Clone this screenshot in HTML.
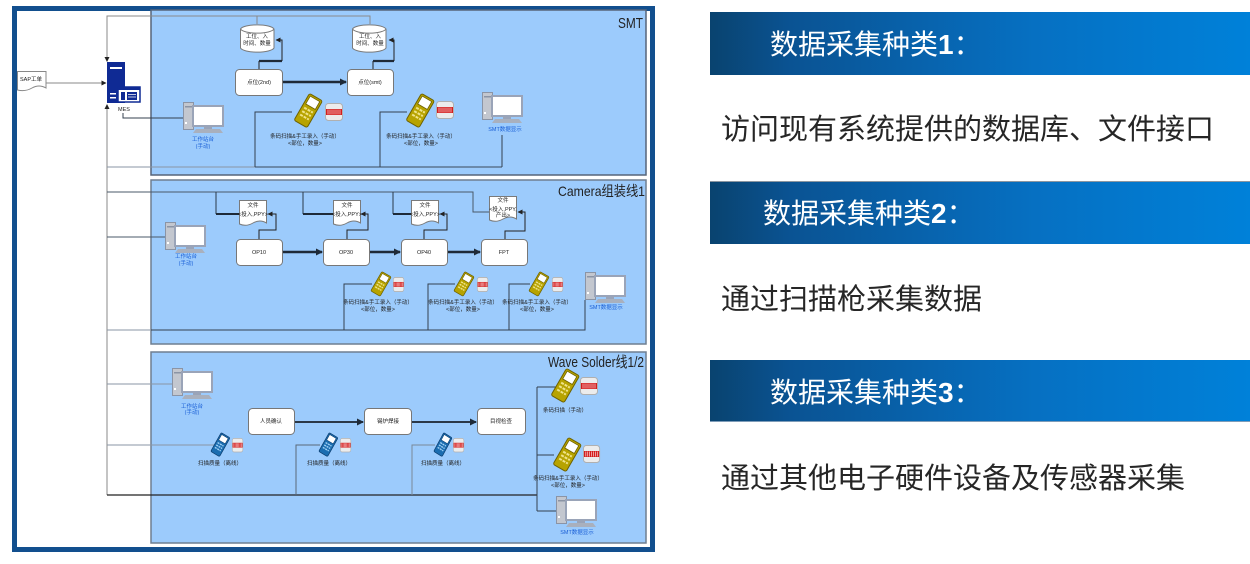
<!DOCTYPE html>
<html>
<head>
<meta charset="utf-8">
<style>
html,body{margin:0;padding:0;background:#fff;}
svg{display:block;}
.t{font-family:"Liberation Sans","Noto Sans CJK SC",sans-serif;}
.s{font-family:"Liberation Sans","Noto Sans CJK SC",sans-serif;font-size:5.5px;fill:#222;text-anchor:middle;}
.b{font-family:"Liberation Sans","Noto Sans CJK SC",sans-serif;font-size:5.5px;fill:#1a5fd6;text-anchor:middle;}
</style>
</head>
<body>
<svg width="1250" height="564" viewBox="0 0 1250 564" xmlns="http://www.w3.org/2000/svg">
<defs>
  <linearGradient id="hg" x1="0" x2="1" y1="0" y2="0">
    <stop offset="0" stop-color="#09436f"/>
    <stop offset="0.15" stop-color="#0a5393"/>
    <stop offset="0.6" stop-color="#0670c2"/>
    <stop offset="1" stop-color="#0081d9"/>
  </linearGradient>
  <marker id="ah" markerWidth="7" markerHeight="7" refX="6" refY="3.5" orient="auto" markerUnits="userSpaceOnUse">
    <path d="M0,0 L7,3.5 L0,7 Z" fill="#1e2a38"/>
  </marker>
  <marker id="as" markerWidth="5" markerHeight="5" refX="4.5" refY="2.5" orient="auto" markerUnits="userSpaceOnUse">
    <path d="M0,0 L5,2.5 L0,5 Z" fill="#222"/>
  </marker>
  <g id="ysc">
    <g transform="translate(15,17) rotate(30)">
      <rect x="-7.5" y="-16" width="15" height="31" rx="2" fill="#b7a300" stroke="#6d6100" stroke-width="1"/>
      <rect x="-5.5" y="-14" width="11" height="9" fill="#fff" stroke="#6d6100" stroke-width=".8"/>
      <g fill="#efe38a">
        <rect x="-5" y="-2" width="3" height="2"/><rect x="-1" y="-2" width="3" height="2"/><rect x="3" y="-2" width="2" height="2"/>
        <rect x="-5" y="2" width="3" height="2"/><rect x="-1" y="2" width="3" height="2"/><rect x="3" y="2" width="2" height="2"/>
        <rect x="-5" y="6" width="3" height="2"/><rect x="-1" y="6" width="3" height="2"/><rect x="3" y="6" width="2" height="2"/>
      </g>
    </g>
  </g>
  <g id="bsc">
    <g transform="translate(15,17) rotate(30)">
      <rect x="-7.5" y="-16" width="15" height="31" rx="2" fill="#1b6db0" stroke="#0b3d6e" stroke-width="1"/>
      <rect x="-5.5" y="-14" width="11" height="9" fill="#fff" stroke="#0b3d6e" stroke-width=".8"/>
      <g fill="#9fd0f5">
        <rect x="-5" y="-2" width="3" height="2"/><rect x="-1" y="-2" width="3" height="2"/><rect x="3" y="-2" width="2" height="2"/>
        <rect x="-5" y="2" width="3" height="2"/><rect x="-1" y="2" width="3" height="2"/><rect x="3" y="2" width="2" height="2"/>
        <rect x="-5" y="6" width="3" height="2"/><rect x="-1" y="6" width="3" height="2"/><rect x="3" y="6" width="2" height="2"/>
      </g>
    </g>
  </g>
  <g id="rl">
    <rect x=".5" y=".5" width="17" height="17" rx="3" fill="#ececec" stroke="#b0b0b0"/>
    <rect x="1" y="6" width="16" height="6" fill="#d41c1c"/>
    <path d="M3,6.5v5M5,6.5v5M7,6.5v5M9,6.5v5M11,6.5v5M13,6.5v5M15,6.5v5" stroke="#fff" stroke-width=".6"/>
  </g>
  <g id="pc">
    <rect x=".5" y=".5" width="10" height="27" fill="#c3c7cf" stroke="#8b94a5"/>
    <rect x="2" y="4" width="7" height="1.5" fill="#8b94a5"/>
    <rect x="2" y="20" width="2" height="2" fill="#fff"/>
    <rect x="10" y="4" width="30" height="20" fill="#fff" stroke="#9aa4b8" stroke-width="2"/>
    <rect x="21" y="24" width="8" height="3" fill="#9aa4b8"/>
    <path d="M13,27 H37 L40,31 H10 Z" fill="#a9b0bd"/>
  </g>
  <g id="db">
    <path d="M0.5,5 A17,5 0 0 1 34,5 V24 A17,5 0 0 1 0.5,24 Z" fill="#fff" stroke="#7a7a7a"/>
    <path d="M0.5,5 A17,5 0 0 0 34,5" fill="none" stroke="#7a7a7a"/>
  </g>
  <g id="doc">
    <path d="M0.5,0.5 H27.5 V23 Q21,19 14,23 T0.5,24 Z" fill="#fff" stroke="#7a7a7a"/>
  </g>
</defs>

<!-- ================= LEFT DIAGRAM ================= -->
<rect x="14.5" y="8.5" width="638" height="541" fill="#fff" stroke="#124f8e" stroke-width="5"/>

<!-- panels -->
<rect x="151" y="10" width="495" height="165" fill="#9ccbfc" stroke="#56657a" stroke-width="1.5"/>
<rect x="151" y="180" width="495" height="164" fill="#9ccbfc" stroke="#6f7e90" stroke-width="1.5"/>
<rect x="151" y="352" width="495" height="191" fill="#9ccbfc" stroke="#6f7e90" stroke-width="1.5"/>

<text class="t" x="643" y="28" font-size="15" fill="#222" text-anchor="end" textLength="25" lengthAdjust="spacingAndGlyphs">SMT</text>
<text class="t" x="645" y="196" font-size="14" fill="#222" text-anchor="end" textLength="87" lengthAdjust="spacingAndGlyphs">Camera组装线1</text>
<text class="t" x="644" y="367" font-size="15" fill="#222" text-anchor="end" textLength="96" lengthAdjust="spacingAndGlyphs">Wave Solder线1/2</text>

<!-- SAP document -->
<path d="M17.5,71.5 H46 V88 Q39,84 32,88 T17.5,90 Z" fill="#fff" stroke="#888"/>
<text class="s" x="31" y="81">SAP工单</text>
<line x1="46" y1="83" x2="106" y2="83" stroke="#8a8a8a" stroke-width="1" marker-end="url(#as)"/>

<!-- server / MES -->
<path d="M107,60 V16 H370 V24" fill="none" stroke="#8a8a8a" stroke-width="1"/>
<line x1="257" y1="16" x2="257" y2="24" stroke="#8a8a8a" stroke-width="1"/>
<path d="M104.5,57 L109.5,57 L107,62 Z" fill="#222"/>
<line x1="107" y1="106" x2="107" y2="495" stroke="#8a8a8a" stroke-width="1"/>
<path d="M104.5,109 L109.5,109 L107,104 Z" fill="#222"/>
<rect x="107" y="62" width="18" height="41" fill="#0f2a94"/>
<rect x="110" y="67" width="12" height="2" fill="#fff"/>
<rect x="110" y="93" width="6" height="1.5" fill="#fff"/>
<rect x="110" y="97" width="6" height="1.5" fill="#fff"/>
<rect x="118" y="87" width="22" height="15" fill="#fff" stroke="#0f2a94" stroke-width="1.5"/>
<rect x="118" y="87" width="22" height="3" fill="#0f2a94"/>
<rect x="121" y="92" width="4" height="8" fill="#0f2a94"/>
<rect x="127" y="92" width="10" height="8" fill="#0f2a94"/>
<path d="M128,94.5 H136 M128,97 H136" stroke="#fff" stroke-width=".7"/>
<text class="s" x="124" y="111">MES</text>
<path d="M123,113 V118 H183" fill="none" stroke="#34414f" stroke-width="1"/>

<!-- SMT db & stations -->
<use href="#db" x="240" y="24"/>
<text class="s" x="257" y="38">工位、入</text>
<text class="s" x="257" y="45">时间、数量</text>
<use href="#db" x="352" y="24"/>
<text class="s" x="370" y="38">工位、入</text>
<text class="s" x="370" y="45">时间、数量</text>

<path d="M259,69 V61" stroke="#222" stroke-width="1"/>
<path d="M259,61 H282" stroke="#1e2a38" stroke-width="2.2"/>
<path d="M282,61 V40 H276" fill="none" stroke="#222" stroke-width="1" marker-end="url(#as)"/>
<path d="M373,69 V61" stroke="#222" stroke-width="1"/>
<path d="M373,61 H394" stroke="#1e2a38" stroke-width="2.2"/>
<path d="M394,61 V40 H389" fill="none" stroke="#222" stroke-width="1" marker-end="url(#as)"/>

<rect x="235.5" y="69.5" width="47" height="26" rx="4" fill="#fff" stroke="#777"/>
<text class="s" x="259" y="84">点位(2nd)</text>
<rect x="347.5" y="69.5" width="46" height="26" rx="4" fill="#fff" stroke="#777"/>
<text class="s" x="370" y="84">点位(smt)</text>
<line x1="283" y1="82" x2="346" y2="82" stroke="#1e2a38" stroke-width="2.5" marker-end="url(#ah)"/>

<!-- SMT bus -->
<line x1="107" y1="167" x2="255" y2="167" stroke="#8a96a4" stroke-width="1"/>
<line x1="255" y1="167" x2="502" y2="167" stroke="#3a4a5a" stroke-width="1"/>
<path d="M255,167 V112 H292" fill="none" stroke="#34414f" stroke-width="1"/>
<path d="M380,167 V112 H407" fill="none" stroke="#34414f" stroke-width="1"/>
<line x1="502" y1="135" x2="502" y2="167" stroke="#34414f" stroke-width="1"/>

<use href="#pc" x="183" y="102"/>
<text class="b" x="203" y="141">工作站台</text>
<text class="b" x="203" y="148">(手动)</text>
<use href="#ysc" x="293" y="94"/>
<use href="#rl" x="325" y="103"/>
<text class="s" x="305" y="138">条码扫描&amp;手工录入（手动）</text>
<text class="s" x="305" y="145">&lt;部位，数量&gt;</text>
<use href="#ysc" x="405" y="94"/>
<use href="#rl" x="436" y="101"/>
<text class="s" x="421" y="138">条码扫描&amp;手工录入（手动）</text>
<text class="s" x="421" y="145">&lt;部位，数量&gt;</text>
<use href="#pc" x="482" y="92"/>
<text class="b" x="505" y="131">SMT数据显示</text>

<!-- ========== Camera ========== -->
<path d="M107,192 H473 V212 H489" fill="none" stroke="#4a5868" stroke-width="1"/>
<path d="M216,192 V214" stroke="#2a3848" stroke-width="1"/>
<path d="M216,214 H239" stroke="#1e2a38" stroke-width="2"/>
<path d="M303,192 V214" stroke="#2a3848" stroke-width="1"/>
<path d="M303,214 H333" stroke="#1e2a38" stroke-width="2"/>
<path d="M393,192 V214" stroke="#2a3848" stroke-width="1"/>
<path d="M393,214 H411" stroke="#1e2a38" stroke-width="2"/>

<use href="#doc" x="239" y="200"/>
<text class="s" x="253" y="207">文件</text>
<text class="s" x="253" y="216">&lt;投入,PPY&gt;</text>
<use href="#doc" x="333" y="200"/>
<text class="s" x="347" y="207">文件</text>
<text class="s" x="347" y="216">&lt;投入,PPY&gt;</text>
<use href="#doc" x="411" y="200"/>
<text class="s" x="425" y="207">文件</text>
<text class="s" x="425" y="216">&lt;投入,PPY&gt;</text>
<use href="#doc" x="489" y="196"/>
<text class="s" x="503" y="202">文件</text>
<text class="s" x="503" y="211">&lt;投入,PPY,</text>
<text class="s" x="503" y="217">产出&gt;</text>

<path d="M259,239 V230 H276 V214 H268" fill="none" stroke="#222" stroke-width="1" marker-end="url(#as)"/>
<path d="M347,239 V230 H368 V214 H361" fill="none" stroke="#222" stroke-width="1" marker-end="url(#as)"/>
<path d="M424,239 V230 H447 V214 H440" fill="none" stroke="#222" stroke-width="1" marker-end="url(#as)"/>
<path d="M505,239 V231 H525 V212 H518" fill="none" stroke="#222" stroke-width="1" marker-end="url(#as)"/>

<rect x="236.5" y="239.5" width="46" height="26" rx="4" fill="#fff" stroke="#777"/>
<text class="s" x="259" y="254">OP10</text>
<rect x="323.5" y="239.5" width="46" height="26" rx="4" fill="#fff" stroke="#777"/>
<text class="s" x="346" y="254">OP30</text>
<rect x="401.5" y="239.5" width="46" height="26" rx="4" fill="#fff" stroke="#777"/>
<text class="s" x="424" y="254">OP40</text>
<rect x="481.5" y="239.5" width="46" height="26" rx="4" fill="#fff" stroke="#777"/>
<text class="s" x="504" y="254">FPT</text>
<line x1="283" y1="252" x2="322" y2="252" stroke="#1e2a38" stroke-width="2.5" marker-end="url(#ah)"/>
<line x1="370" y1="252" x2="400" y2="252" stroke="#1e2a38" stroke-width="2.5" marker-end="url(#ah)"/>
<line x1="448" y1="252" x2="480" y2="252" stroke="#1e2a38" stroke-width="2.5" marker-end="url(#ah)"/>

<line x1="107" y1="237" x2="165" y2="237" stroke="#4a5868" stroke-width="1"/>
<use href="#pc" x="165" y="222"/>
<text class="b" x="186" y="258">工作站台</text>
<text class="b" x="186" y="265">(手动)</text>

<line x1="107" y1="330" x2="151" y2="330" stroke="#8a96a4" stroke-width="1"/>
<path d="M151,330 H585 V300" fill="none" stroke="#34414f" stroke-width="1"/>
<path d="M344,330 V284 H372" fill="none" stroke="#34414f" stroke-width="1"/>
<path d="M428,330 V284 H455" fill="none" stroke="#34414f" stroke-width="1"/>
<path d="M509,330 V284 H530" fill="none" stroke="#34414f" stroke-width="1"/>

<use href="#ysc" transform="translate(370,272) scale(0.72)"/>
<use href="#rl" transform="translate(393,277) scale(0.62,0.83)"/>
<text class="s" x="378" y="304">条码扫描&amp;手工录入（手动）</text>
<text class="s" x="378" y="311">&lt;部位，数量&gt;</text>
<use href="#ysc" transform="translate(453,272) scale(0.72)"/>
<use href="#rl" transform="translate(477,277) scale(0.62,0.83)"/>
<text class="s" x="463" y="304">条码扫描&amp;手工录入（手动）</text>
<text class="s" x="463" y="311">&lt;部位，数量&gt;</text>
<use href="#ysc" transform="translate(528,272) scale(0.72)"/>
<use href="#rl" transform="translate(552,277) scale(0.62,0.83)"/>
<text class="s" x="537" y="304">条码扫描&amp;手工录入（手动）</text>
<text class="s" x="537" y="311">&lt;部位，数量&gt;</text>
<use href="#pc" x="585" y="272"/>
<text class="b" x="606" y="309">SMT数据显示</text>

<!-- ========== Wave Solder ========== -->
<line x1="107" y1="384" x2="174" y2="384" stroke="#8a96a4" stroke-width="1"/>
<line x1="107" y1="445" x2="214" y2="445" stroke="#8a96a4" stroke-width="1"/>
<line x1="107" y1="495" x2="537" y2="495" stroke="#222" stroke-width="1.3"/>
<path d="M537,387 V511" stroke="#34414f" stroke-width="1"/>
<path d="M537,387 H556" stroke="#34414f" stroke-width="1"/>
<path d="M537,455 H554" stroke="#34414f" stroke-width="1"/>
<path d="M537,511 H558" stroke="#34414f" stroke-width="1"/>
<path d="M296,495 V445 H320" fill="none" stroke="#5a6878" stroke-width="1"/>
<path d="M412,495 V445 H435" fill="none" stroke="#7a8898" stroke-width="1"/>

<use href="#pc" x="172" y="368"/>
<text class="b" x="192" y="408">工作站台</text>
<text class="b" x="192" y="414">(手动)</text>

<rect x="248.5" y="408.5" width="46" height="26" rx="4" fill="#fff" stroke="#777"/>
<text class="s" x="271" y="423">人员确认</text>
<rect x="364.5" y="408.5" width="47" height="26" rx="4" fill="#fff" stroke="#777"/>
<text class="s" x="388" y="423">锡炉焊接</text>
<rect x="477.5" y="408.5" width="48" height="26" rx="4" fill="#fff" stroke="#777"/>
<text class="s" x="501" y="423">目视检查</text>
<line x1="295" y1="422" x2="363" y2="422" stroke="#2a3848" stroke-width="2" marker-end="url(#ah)"/>
<line x1="412" y1="422" x2="476" y2="422" stroke="#2a3848" stroke-width="2" marker-end="url(#ah)"/>

<use href="#bsc" transform="translate(210,433) scale(0.68,0.7)"/>
<use href="#rl" transform="translate(232,438) scale(0.62,0.8)"/>
<text class="s" x="220" y="465">扫描质量（离线）</text>
<use href="#bsc" transform="translate(318,433) scale(0.68,0.7)"/>
<use href="#rl" transform="translate(340,438) scale(0.62,0.8)"/>
<text class="s" x="329" y="465">扫描质量（离线）</text>
<use href="#bsc" transform="translate(433,433) scale(0.65,0.7)"/>
<use href="#rl" transform="translate(453,438) scale(0.62,0.8)"/>
<text class="s" x="443" y="465">扫描质量（离线）</text>

<use href="#ysc" x="550" y="369"/>
<use href="#rl" x="580" y="377"/>
<text class="s" x="565" y="412">条码扫描（手动）</text>
<use href="#ysc" x="552" y="438"/>
<use href="#rl" transform="translate(583,445) scale(0.95,1)"/>
<text class="s" x="568" y="480">条码扫描&amp;手工录入（手动）</text>
<text class="s" x="568" y="487">&lt;部位，数量&gt;</text>
<use href="#pc" x="556" y="496"/>
<text class="b" x="577" y="534">SMT数据显示</text>

<!-- ================= RIGHT SIDE ================= -->
<rect x="710" y="12" width="540" height="63" fill="url(#hg)"/>
<text class="t" x="770" y="54" font-size="28" fill="#fff">数据采集种类<tspan font-weight="bold">1</tspan>：</text>

<text class="t" x="721" y="139" font-size="29" fill="#262626">访问现有系统提供的数据库、文件接口</text>

<rect x="710" y="181" width="540" height="63" fill="url(#hg)"/>
<line x1="710" y1="181.5" x2="1250" y2="181.5" stroke="#8c96a0" stroke-width="1"/>
<text class="t" x="763" y="223" font-size="28" fill="#fff">数据采集种类<tspan font-weight="bold">2</tspan>：</text>

<text class="t" x="721" y="309" font-size="29" fill="#262626">通过扫描枪采集数据</text>

<rect x="710" y="360" width="540" height="62" fill="url(#hg)"/>
<line x1="710" y1="421.5" x2="1250" y2="421.5" stroke="#7e9cb8" stroke-width="1"/>
<text class="t" x="770" y="402" font-size="28" fill="#fff">数据采集种类<tspan font-weight="bold">3</tspan>：</text>

<text class="t" x="721" y="488" font-size="29" fill="#262626">通过其他电子硬件设备及传感器采集</text>
</svg>
</body>
</html>
